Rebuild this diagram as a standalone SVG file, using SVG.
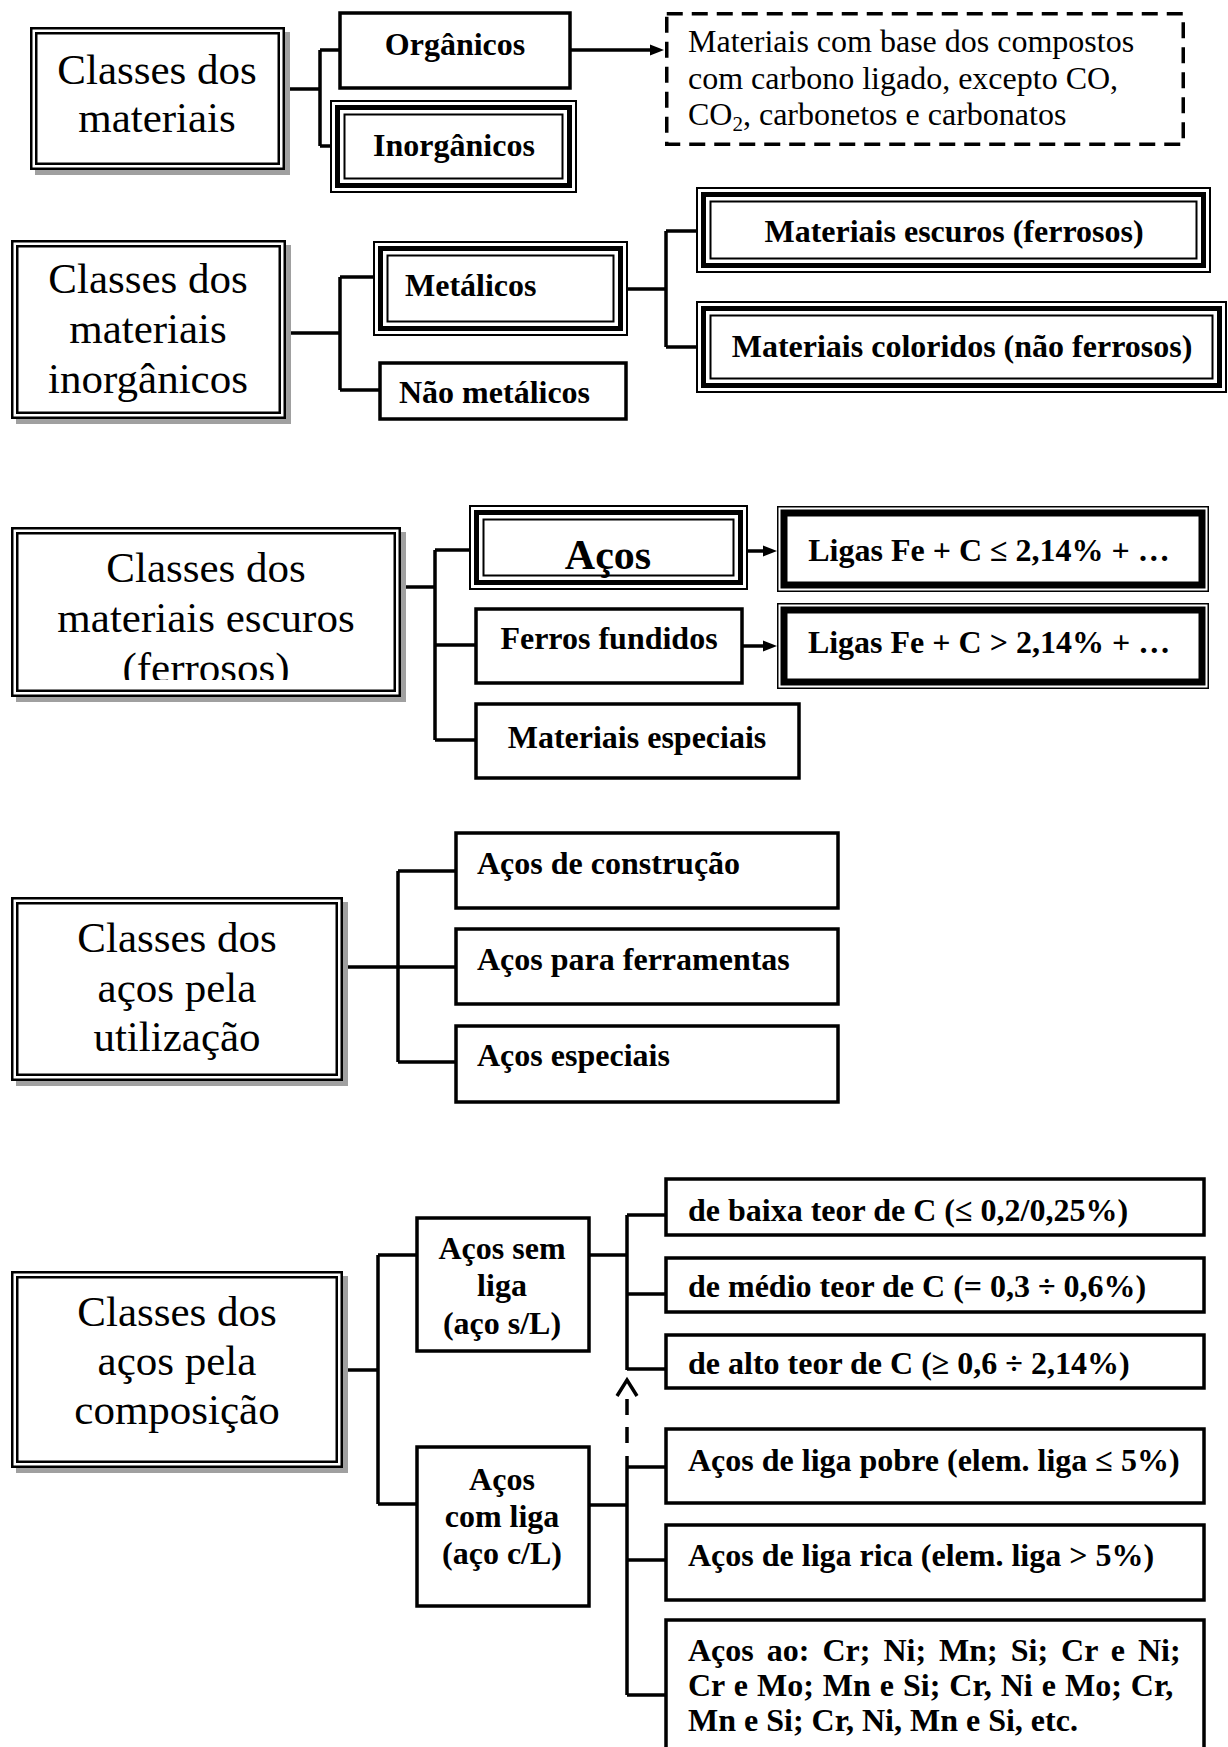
<svg xmlns="http://www.w3.org/2000/svg" width="1228" height="1747" viewBox="0 0 1228 1747">
  <style>
    .bg { fill: #fff; }
    .shadow { fill: #a0a0a0; }
    .dbl { fill: none; stroke: #000; stroke-width: 2.5; }
    .box { fill: #fff; stroke: #000; stroke-width: 3.5; }
    .thin { fill: #fff; stroke: #000; stroke-width: 2; }
    .thick { fill: none; stroke: #000; stroke-width: 5; }
    .thin2 { fill: none; stroke: #000; stroke-width: 2; }
    .hair { fill: #fff; stroke: #000; stroke-width: 1.5; }
    .heavy { fill: none; stroke: #000; stroke-width: 7; }
    .dashed { fill: #fff; stroke: #000; stroke-width: 3.5; stroke-dasharray: 16 9; }
    .conn { fill: none; stroke: #000; stroke-width: 3.5; }
    .conn-dash { fill: none; stroke: #000; stroke-width: 3.5; stroke-dasharray: 16 12; }
    .title { font-family: "Liberation Serif", "Times New Roman", serif; font-size: 43px; text-anchor: middle; fill: #000; }
    .note { font-family: "Liberation Serif", "Times New Roman", serif; font-size: 32px; fill: #000; }
    .lbl { font-family: "Liberation Serif", "Times New Roman", serif; font-size: 32px; font-weight: bold; fill: #000; }
    .mid { text-anchor: middle; }
  </style>
  <defs>
    <marker id="arr" viewBox="0 0 14 12" refX="6" refY="6" markerWidth="14" markerHeight="12" markerUnits="userSpaceOnUse" orient="auto">
      <path d="M0,0.5 L14,6 L0,11.5 z" fill="#000"/>
    </marker>
    <clipPath id="clipC">
      <rect x="17" y="533" width="378" height="147"/>
    </clipPath>
  </defs>

  <rect class="bg" x="0" y="0" width="1228" height="1747"/>

  <!-- connectors -->
  <g id="connectors">
    <!-- materials -->
    <path class="conn" d="M285 89 H320 M320 50 V146 M320 50 H340 M320 146 H332"/>
    <path class="conn" d="M571 50 H656" marker-end="url(#arr)"/>
    <!-- inorganic -->
    <path class="conn" d="M286 333 H340 M340 277 V390 M340 277 H374 M340 390 H380"/>
    <path class="conn" d="M627 289 H666 M666 231 V347 M666 231 H697 M666 347 H697"/>
    <!-- ferrous -->
    <path class="conn" d="M401 587 H435 M435 550 V740 M435 550 H470 M435 645 H476 M435 740 H476"/>
    <path class="conn" d="M748 551 H769" marker-end="url(#arr)"/>
    <path class="conn" d="M743 646 H769" marker-end="url(#arr)"/>
    <!-- steels by use -->
    <path class="conn" d="M343 967 H456 M398 871 V1062 M398 871 H456 M398 1062 H456"/>
    <!-- steels by composition -->
    <path class="conn" d="M343 1370 H378 M378 1255 V1504 M378 1255 H417 M378 1504 H417"/>
    <path class="conn" d="M589 1255 H627 M627 1215 V1370 M627 1215 H666 M627 1294 H666 M627 1369 H666"/>
    <path class="conn" d="M589 1505 H627 M627 1456 V1695 M627 1467 H666 M627 1560 H666 M627 1695 H666"/>
    <path class="conn-dash" d="M627 1399 V1443"/>
    <path class="conn" d="M617 1396 L627 1380 L637 1396"/>
  </g>

  <!-- section 1 -->
  <g id="classes-materiais">
    <rect class="shadow" x="35" y="32" width="255" height="143"/>
    <rect class="dbl" style="fill:#fff" x="31.25" y="28.25" width="252.5" height="140.5"/>
    <rect class="dbl" x="36.25" y="33.25" width="242.5" height="130.5"/>
    <text class="title" x="157" y="84">Classes dos</text>
    <text class="title" x="157" y="132">materiais</text>
  </g>
  <g id="organicos">
    <rect class="box" x="340" y="13" width="230" height="75"/>
    <text class="lbl mid" x="455" y="55">Orgânicos</text>
  </g>
  <g id="inorganicos">
    <rect class="thin" x="331" y="101" width="245" height="91"/>
    <rect class="thick" x="337.5" y="107.5" width="232" height="78"/>
    <rect class="thin2" x="344.5" y="114.5" width="218" height="64"/>
    <text class="lbl mid" x="454" y="156">Inorgânicos</text>
  </g>
  <g id="nota-organicos">
    <rect class="dashed" x="666.75" y="13.75" width="516.5" height="130.5"/>
    <text class="note" x="688" y="52">Materiais com base dos compostos</text>
    <text class="note" x="688" y="89">com carbono ligado, excepto CO,</text>
    <text class="note" x="688" y="125">CO<tspan font-size="21" dy="6">2</tspan><tspan dy="-6">, carbonetos e carbonatos</tspan></text>
  </g>

  <!-- section 2 -->
  <g id="classes-inorganicos">
    <rect class="shadow" x="16" y="245" width="275" height="179"/>
    <rect class="dbl" style="fill:#fff" x="12.25" y="241.25" width="272.5" height="176.5"/>
    <rect class="dbl" x="17.25" y="246.25" width="262.5" height="166.5"/>
    <text class="title" x="148" y="293">Classes dos</text>
    <text class="title" x="148" y="343">materiais</text>
    <text class="title" x="148" y="393">inorgânicos</text>
  </g>
  <g id="metalicos">
    <rect class="thin" x="374" y="242" width="253" height="93"/>
    <rect class="thick" x="380.5" y="248.5" width="240" height="80"/>
    <rect class="thin2" x="387.5" y="255.5" width="226" height="66"/>
    <text class="lbl" x="405" y="296">Metálicos</text>
  </g>
  <g id="nao-metalicos">
    <rect class="box" x="380" y="363" width="246" height="56"/>
    <text class="lbl" x="399" y="403">Não metálicos</text>
  </g>
  <g id="escuros">
    <rect class="thin" x="697" y="188" width="513" height="84"/>
    <rect class="thick" x="703.5" y="194.5" width="500" height="71"/>
    <rect class="thin2" x="710.5" y="201.5" width="486" height="57"/>
    <text class="lbl mid" x="954" y="242">Materiais escuros (ferrosos)</text>
  </g>
  <g id="coloridos">
    <rect class="thin" x="697" y="302" width="529" height="90"/>
    <rect class="thick" x="703.5" y="308.5" width="516" height="77"/>
    <rect class="thin2" x="710.5" y="315.5" width="502" height="63"/>
    <text class="lbl mid" x="962" y="357">Materiais coloridos (não ferrosos)</text>
  </g>

  <!-- section 3 -->
  <g id="classes-escuros">
    <rect class="shadow" x="16" y="532" width="390" height="170"/>
    <rect class="dbl" style="fill:#fff" x="12.25" y="528.25" width="387.5" height="167.5"/>
    <rect class="dbl" x="17.25" y="533.25" width="377.5" height="157.5"/>
    <g clip-path="url(#clipC)">
      <text class="title" x="206" y="582">Classes dos</text>
      <text class="title" x="206" y="632">materiais escuros</text>
      <text class="title" x="206" y="682">(ferrosos)</text>
    </g>
  </g>
  <g id="acos">
    <rect class="thin" x="470" y="506" width="277" height="83"/>
    <rect class="thick" x="476.5" y="512.5" width="264" height="70"/>
    <rect class="thin2" x="483.5" y="519.5" width="250" height="56"/>
    <text class="lbl mid" style="font-size:42px" x="608" y="569">Aços</text>
  </g>
  <g id="ferros-fundidos">
    <rect class="box" x="476" y="609" width="266" height="74"/>
    <text class="lbl mid" x="609" y="649">Ferros fundidos</text>
  </g>
  <g id="materiais-especiais">
    <rect class="box" x="476" y="704" width="323" height="74"/>
    <text class="lbl mid" x="637" y="748">Materiais especiais</text>
  </g>
  <g id="ligas-acos">
    <rect class="hair" x="777.75" y="506.75" width="430.5" height="84.5"/>
    <rect class="heavy" x="784" y="513" width="418" height="72"/>
    <text class="lbl mid" x="989" y="561">Ligas Fe + C ≤ 2,14% + …</text>
  </g>
  <g id="ligas-ferros">
    <rect class="hair" x="777.75" y="603.75" width="430.5" height="84.5"/>
    <rect class="heavy" x="784" y="610" width="418" height="72"/>
    <text class="lbl mid" x="989" y="653">Ligas Fe + C &gt; 2,14% + …</text>
  </g>

  <!-- section 4 -->
  <g id="classes-utilizacao">
    <rect class="shadow" x="16" y="902" width="332" height="184"/>
    <rect class="dbl" style="fill:#fff" x="12.25" y="898.25" width="329.5" height="181.5"/>
    <rect class="dbl" x="17.25" y="903.25" width="319.5" height="171.5"/>
    <text class="title" x="177" y="952">Classes dos</text>
    <text class="title" x="177" y="1002">aços pela</text>
    <text class="title" x="177" y="1051">utilização</text>
  </g>
  <g id="acos-construcao">
    <rect class="box" x="456" y="833" width="382" height="75"/>
    <text class="lbl" x="477" y="874">Aços de construção</text>
  </g>
  <g id="acos-ferramentas">
    <rect class="box" x="456" y="929" width="382" height="75"/>
    <text class="lbl" x="477" y="970">Aços para ferramentas</text>
  </g>
  <g id="acos-especiais">
    <rect class="box" x="456" y="1026" width="382" height="76"/>
    <text class="lbl" x="477" y="1066">Aços especiais</text>
  </g>

  <!-- section 5 -->
  <g id="classes-composicao">
    <rect class="shadow" x="16" y="1276" width="332" height="197"/>
    <rect class="dbl" style="fill:#fff" x="12.25" y="1272.25" width="329.5" height="194.5"/>
    <rect class="dbl" x="17.25" y="1277.25" width="319.5" height="184.5"/>
    <text class="title" x="177" y="1326">Classes dos</text>
    <text class="title" x="177" y="1375">aços pela</text>
    <text class="title" x="177" y="1424">composição</text>
  </g>
  <g id="acos-sem-liga">
    <rect class="box" x="417" y="1218" width="172" height="133"/>
    <text class="lbl mid" x="502" y="1259">Aços sem</text>
    <text class="lbl mid" x="502" y="1296">liga</text>
    <text class="lbl mid" x="502" y="1334">(aço s/L)</text>
  </g>
  <g id="acos-com-liga">
    <rect class="box" x="417" y="1447" width="172" height="159"/>
    <text class="lbl mid" x="502" y="1490">Aços</text>
    <text class="lbl mid" x="502" y="1527">com liga</text>
    <text class="lbl mid" x="502" y="1564">(aço c/L)</text>
  </g>
  <g id="baixo-teor">
    <rect class="box" x="666" y="1179" width="538" height="56"/>
    <text class="lbl" x="688" y="1221">de baixa teor de C (≤ 0,2/0,25%)</text>
  </g>
  <g id="medio-teor">
    <rect class="box" x="666" y="1258" width="538" height="54"/>
    <text class="lbl" x="688" y="1297">de médio teor de C (= 0,3 ÷ 0,6%)</text>
  </g>
  <g id="alto-teor">
    <rect class="box" x="666" y="1335" width="538" height="53"/>
    <text class="lbl" x="688" y="1374">de alto teor de C (≥ 0,6 ÷ 2,14%)</text>
  </g>
  <g id="liga-pobre">
    <rect class="box" x="666" y="1429" width="538" height="74"/>
    <text class="lbl" x="688" y="1471">Aços de liga pobre (elem. liga ≤ 5%)</text>
  </g>
  <g id="liga-rica">
    <rect class="box" x="666" y="1525" width="538" height="75"/>
    <text class="lbl" x="688" y="1566">Aços de liga rica (elem. liga &gt; 5%)</text>
  </g>
  <g id="acos-ao">
    <rect class="box" x="666" y="1620" width="538" height="160"/>
    <text class="lbl" x="688" y="1661" style="word-spacing:5px">Aços ao: Cr; Ni; Mn; Si; Cr e Ni;</text>
    <text class="lbl" x="688" y="1696" style="word-spacing:1px">Cr e Mo; Mn e Si; Cr, Ni e Mo; Cr,</text>
    <text class="lbl" x="688" y="1731">Mn e Si; Cr, Ni, Mn e Si, etc.</text>
  </g>
</svg>
